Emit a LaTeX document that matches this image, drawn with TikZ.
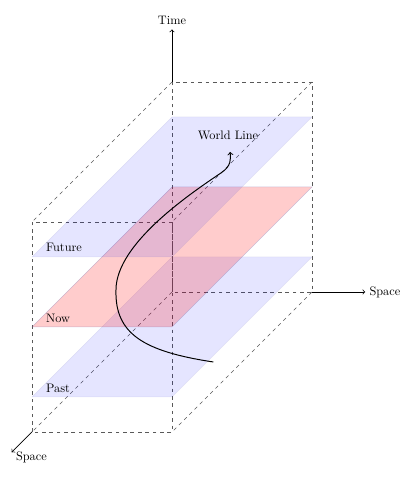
\documentclass[tikz,border=0pt]{standalone}
\begin{document}
\begin{tikzpicture}[x=2cm,y=2cm]
    \useasboundingbox (-2.457,-2.686) rectangle (3.486,4.171);
    \def\plan#1{(0,#1) -- (2,#1) -- (0,#1-2) -- (-2,#1-2) -- cycle}
    \coordinate (O) at (0,0);
    \coordinate (X) at (2,0);
    \coordinate (T) at (0,3);
    \coordinate (Z) at (-2,-2);
    \coordinate (Xf) at (2.76,0);
    \coordinate (Tf) at (0,3.75);
    \coordinate (Zf) at (-2.29,-2.29);
    %la boite
    \draw [dashed,black!65] (O) rectangle (2,3);
    \draw [dashed,black!65] (Z) rectangle (0,1);
    \draw [dashed,black!65] (O) -- (Z) (X) -- (0,-2) (2,3) -- (0,1) (T) -- (-2,1);
    %les plans
    \filldraw [fill=blue,fill opacity=0.1,draw=blue!30!gray,draw opacity=0.12] \plan{0.5};
    \filldraw [fill=red,fill opacity=0.2,draw=blue!30!gray,draw opacity=0.3] \plan{1.5};
    \filldraw [fill=blue,fill opacity=0.1,draw=blue!30!gray,draw opacity=0.12] \plan{2.5};
    \node [right] (past) at (-1.86,-1.37) {Past};
    \node [right] (now) at (-1.86,-0.37) {Now};
    \node [right] (future) at (-1.86,0.63) {Future};
    %les axes
    \node [above] (time) at (Tf) {Time};
    \node [right] (spacex) at (Xf) {Space};
    \node [below right,yshift=4pt] (spacez) at (Zf) {Space};
    \draw [->,semithick] (T) -- (Tf);
    \draw [->,semithick] (X) -- (Xf);
    \draw [->,semithick] (Z) -- (Zf);
    %ligne d'univers
    \coordinate (w0) at (0.59,-1);
    \coordinate (w1) at (0.83,2.0);
    \node (wl) at (0.8,2.24) {World Line};
    \draw [thick,->] (w0) .. controls (-0.4,-0.85) and (-0.82,-0.6) .. (-0.8,0.03)
        .. controls (-0.8,0.7) and (0.3,1.43) .. (0.7,1.7)
        .. controls (0.85,1.8) and (0.84,1.9) .. (w1);
\end{tikzpicture}
\end{document}
